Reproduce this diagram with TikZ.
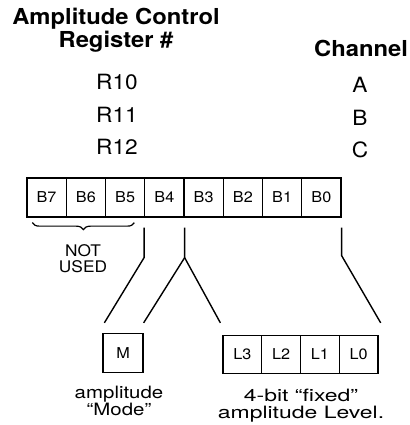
\documentclass[tikz,border=0pt]{standalone}
\usepackage{fontspec}
\setmainfont[FakeStretch=1.08]{TeX Gyre Heros}
\newfontfamily\widefont[Ligatures=TeX, FakeStretch=1.2]{TeX Gyre Heros}
\newfontfamily\widerfont[Ligatures=TeX, FakeStretch=1.35]{TeX Gyre Heros}
\usepackage{tikz}
\usetikzlibrary{decorations.pathreplacing}

\tikzset{
    bitbox/.style={draw, line width=1.3pt, minimum width=39.25pt, minimum height=39pt,
        inner sep=0pt, font=\fontsize{15}{15}\selectfont},
    head/.style={font=\fontsize{22}{23}\selectfont\bfseries, align=center, inner sep=0pt},
    regtext/.style={font=\fontsize{21}{21}\selectfont, inner sep=0pt},
    lbl/.style={align=center, inner sep=0pt, anchor=north},
    wire/.style={line width=1.4pt}
}

\begin{document}
\begin{tikzpicture}[x=1pt, y=1pt]
    \useasboundingbox (0,0) rectangle (409,425);

    % Headings
    \node[head] (title) at (116,394.5) {Amplitude Control\\Register \#};
    \node[head] (chan) at (361,377) {Channel};

    % Register and channel rows
    \foreach \r/\c/\y in {10/A/343, 11/B/310.5, 12/C/278} {
        \node[regtext] (r\r) at (117,\y) {R\r};
        \node[regtext] (ch\c) at (360,\y-3) {\c};
    }

    % Register bits B7 ... B0
    \foreach \b [count=\i from 0] in {7,6,5,4,3,2,1,0}
        \node[bitbox] (b\b) at ({46.6+39.25*\i},227.5) {B\b};

    % Brace over unused bits
    \draw[line width=1.2pt, decorate, decoration={brace, amplitude=7pt}]
        ([xshift=-11pt, yshift=-5pt]b5.south east) -- ([xshift=6pt, yshift=-5pt]b7.south west);
    \node[font=\fontsize{16}{16}\selectfont, align=center, inner sep=0pt] (notused) at (83,166) {NOT\\USED};

    % Mode bit and level bits
    \node[bitbox, minimum width=40pt] (m) at (123,72) {M};
    \foreach \l [count=\i from 0] in {3,2,1,0}
        \node[bitbox, minimum width=38.75pt, minimum height=38pt] (l\l) at ({242.4+38.75*\i},70.5) {L\l};

    % Connecting lines
    \draw[wire] ([yshift=-10pt]b4.south west) -- ++(0,-30pt) -- ([xshift=2pt, yshift=10pt]m.north west);
    \draw[wire] ([yshift=-10pt]b4.south east) -- ++(0,-30pt) coordinate (split)
        -- ([yshift=10pt]m.north east);
    \draw[wire] (split) -- ([xshift=-2pt, yshift=12pt]l3.north west);
    \draw[wire] ([yshift=-10pt]b0.south east) -- ++(0,-28pt) -- ([xshift=2pt, yshift=12pt]l0.north east);

    % Labels
    \node[lbl, font=\widefont\fontsize{17}{16.5}\selectfont] (modelbl) at (119,39) {amplitude\\``Mode''};
    \node[lbl, font=\widerfont\fontsize{17}{16.5}\selectfont] (levellbl) at (301,36) {4-bit ``fixed''\\amplitude Level.};
\end{tikzpicture}
\end{document}
